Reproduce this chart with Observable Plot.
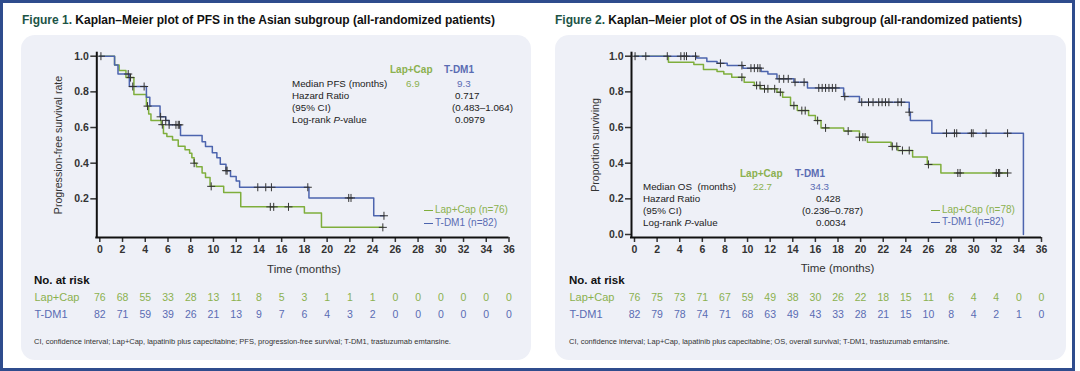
<!DOCTYPE html>
<html><head><meta charset="utf-8">
<script src="https://cdn.jsdelivr.net/npm/d3@7"></script>
<script src="https://cdn.jsdelivr.net/npm/@observablehq/plot@0.6"></script>
<style>
body{margin:0;background:#fff;}
#root{position:relative;width:1080px;height:371px;overflow:hidden;font-family:"Liberation Sans",Arial,sans-serif;color:#222;}
.abs{position:absolute;white-space:pre;}
.frame{position:absolute;left:0;top:0;width:1075px;height:371px;border:3px solid #2f4c8d;box-sizing:border-box;}
.panel{position:absolute;top:35px;height:325px;background:#eef0f7;border-radius:14px;}
.title{font-weight:bold;font-size:12px;color:#111;line-height:14px;}
.title b{color:#1d5446;}
.plotbox{position:absolute;}
</style></head>
<body><div id="root"><div class="frame"></div></div>
<script>
// ---------- shared data ----------
const months = [0,2,4,6,8,10,12,14,16,18,20,22,24,26,28,30,32,34,36];
const arms = ["Lap+Cap","T-DM1"];
const armLineColors = ["#7fae3c","#4c64ae"];
const armTextColors = ["#8bb14f","#5a6cb3"];

// ---------- Figure 1: PFS ----------
const pfsTitleNum = "Figure 1.";
const pfsTitle = " Kaplan\u2013Meier plot of PFS in the Asian subgroup (all-randomized patients)";
const pfsYLabel = "Progression-free survival rate";
const pfsYTicks = [0.2,0.4,0.6,0.8,1.0];
const pfsLapTime = [0,1.3,1.7,2.3,3.0,4.1,4.3,4.5,5.4,5.6,5.9,6.4,6.9,7.5,7.9,8.1,8.3,8.5,9.0,9.3,9.7,10.9,12.4,18.0,19.5,24.9];
const pfsLapSurv = [1,0.95,0.92,0.88,0.785,0.72,0.676,0.64,0.616,0.567,0.55,0.53,0.495,0.475,0.455,0.43,0.40,0.38,0.345,0.32,0.27,0.235,0.155,0.12,0.04,0.04];
const pfsLapCensor = [2.7,4.2,5.5,8.3,9.8,15.0,15.3,16.6,24.9];
const pfsTdmTime = [0,1.3,1.6,2.6,4.1,4.4,5.3,5.8,6.1,7.1,9.0,9.3,9.9,10.3,10.6,11.1,11.5,12.0,12.3,18.4,24.1,25.0];
const pfsTdmSurv = [1,0.95,0.90,0.83,0.77,0.72,0.66,0.64,0.615,0.555,0.52,0.494,0.458,0.43,0.394,0.358,0.325,0.30,0.265,0.205,0.105,0.105];
const pfsTdmCensor = [0.1,2.5,2.9,3.9,5.35,5.8,6.1,6.7,6.9,7.0,11.1,11.2,13.9,14.6,15.1,18.3,21.9,22.1,25.0];
const pfsN = [76,82];
const pfsRiskLap = [76,68,55,33,28,13,11,8,5,3,1,1,1,0,0,0,0,0,0];
const pfsRiskTdm = [82,71,59,39,26,21,13,9,7,6,4,3,2,0,0,0,0,0,0];
const pfsStatLabels = ["Median PFS (months)","Hazard Ratio","(95% CI)","Log-rank P-value"];
const pfsMedians = ["6.9","9.3"];
const pfsStatValues = ["0.717","(0.483\u20131.064)","0.0979"];
const pfsFootnote = "CI, confidence interval; Lap+Cap, lapatinib plus capecitabine; PFS, progression-free survival; T-DM1, trastuzumab emtansine.";

// ---------- Figure 2: OS ----------
const osTitleNum = "Figure 2.";
const osTitle = " Kaplan\u2013Meier plot of OS in the Asian subgroup (all-randomized patients)";
const osYLabel = "Proportion surviving";
const osYTicks = [0,0.2,0.4,0.6,0.8,1.0];
const osLapTime = [0,3.0,5.25,6.1,7.3,7.9,8.6,9.7,10.6,11.15,12.6,13.1,13.8,14.4,15.4,16.0,16.5,18.5,19.9,20.6,22.7,23.3,24.6,25.9,27.1,33.0];
const osLapSurv = [1,0.966,0.953,0.925,0.914,0.90,0.882,0.854,0.836,0.817,0.798,0.77,0.723,0.695,0.667,0.639,0.598,0.58,0.546,0.518,0.494,0.471,0.434,0.393,0.345,0.345];
const osLapCensor = [9.5,10.8,11.1,11.5,11.8,12.4,12.9,14.1,14.8,15.1,16.2,16.9,18.9,19.9,20.2,20.4,22.8,23.2,23.7,24.3,26.0,28.6,28.8,32.0,32.2,32.3,33.0];
const osTdmTime = [0,5.5,6.4,7.3,8.2,9.6,11.2,11.8,12.6,14.1,15.3,18.5,19.9,24.3,24.4,26.3,34.4];
const osTdmSurv = [1,0.99,0.97,0.96,0.948,0.933,0.914,0.90,0.873,0.854,0.822,0.774,0.742,0.686,0.639,0.568,0];
const osTdmCensor = [0.05,1.0,2.9,4.1,4.4,4.6,5.4,7.6,9.5,10.3,10.6,10.9,11.1,12.8,13.2,13.6,14.2,15.0,16.3,16.6,16.9,17.2,17.5,17.8,18.6,20.1,20.7,21.1,21.6,21.9,22.2,22.5,23.3,23.6,24.3,27.6,28.3,28.5,29.8,29.95,31.1,33.0];
const osN = [78,82];
const osRiskLap = [76,75,73,71,67,59,49,38,30,26,22,18,15,11,6,4,4,0,0];
const osRiskTdm = [82,79,78,74,71,68,63,49,43,33,28,21,15,10,8,4,2,1,0];
const osStatLabels = ["Median OS  (months)","Hazard Ratio","(95% CI)","Log-rank P-value"];
const osMedians = ["22.7","34.3"];
const osStatValues = ["0.428","(0.236\u20130.787)","0.0034"];
const osFootnote = "CI, confidence interval; Lap+Cap, lapatinib plus capecitabine; OS, overall survival; T-DM1, trastuzumab emtansine.";

const riskHeader = "No. at risk";
const xLabel = "Time (months)";

// ---------- helpers ----------
const root = document.getElementById("root");
function addDiv(html, css, cls="abs"){
  const d = document.createElement("div");
  d.className = cls; d.innerHTML = html; Object.assign(d.style, css); root.appendChild(d); return d;
}
function stepAt(T,S,t){ let v=S[0]; for(let i=0;i<T.length;i++){ if(T[i]<=t) v=S[i]; } return v; }

function kmPlot(curves, yTicks, x0, x36, left, top){
  const width = 480, height = 240;
  const lines = curves.flatMap((c,k)=>c.T.map((t,i)=>({arm:arms[k], t, s:c.S[i]})));
  const cens = curves.flatMap((c,k)=>c.C.map(t=>({arm:arms[k], t, s:stepAt(c.T,c.S,t)})));
  const p = Plot.plot({
    width, height,
    marginLeft: x0-left, marginRight: width-(x36-left), marginTop: 15.7, marginBottom: 46,
    x:{domain:[0,36]}, y:{domain:[0,1]},
    color:{domain:arms, range:armLineColors},
    style:{fontFamily:"Liberation Sans, Arial, sans-serif", background:"transparent", overflow:"visible"},
    marks:[
      Plot.axisX({ticks:months, tickFormat:d=>d, tickSize:5, tickPadding:3, dy:3, fontSize:10.5, fontWeight:"bold", color:"#333", strokeWidth:1.5, label:null}),
      Plot.axisY({ticks:yTicks, tickFormat:".1f", tickSize:6, tickPadding:2, dx:-3, fontSize:10.5, fontWeight:"bold", color:"#333", strokeWidth:1.5, label:null}),
      Plot.ruleY([0], {dy:3, insetLeft:-4, stroke:"#111", strokeWidth:2}),
      Plot.ruleX([0], {dx:-3, insetTop:-4, insetBottom:-4, stroke:"#111", strokeWidth:2}),
      Plot.line(lines, {x:"t", y:"s", z:"arm", stroke:"arm", curve:"step-after", strokeWidth:1.5}),
      Plot.dot(cens, {x:"t", y:"s", symbol:"plus", r:2.7, stroke:"#333", strokeWidth:1})
    ]
  });
  const box = document.createElement("div"); box.className="plotbox";
  box.style.left = left+"px"; box.style.top = top+"px";
  box.appendChild(p); root.appendChild(box);
}

function riskPlot(riskLap, riskTdm, x0, x36, left, labelX){
  const width = 500, height = 36;
  const rows = [...riskLap.map((n,i)=>({arm:arms[0], m:months[i], n})), ...riskTdm.map((n,i)=>({arm:arms[1], m:months[i], n}))];
  const p = Plot.plot({
    width, height, marginLeft:x0-left, marginRight:width-(x36-left), marginTop:0, marginBottom:0,
    x:{domain:[0,36], axis:null},
    y:{type:"point", domain:arms, range:[11,28], padding:0, axis:null},
    color:{domain:arms, range:armTextColors},
    style:{fontFamily:"Liberation Sans, Arial, sans-serif", background:"transparent", overflow:"visible"},
    marks:[
      Plot.text(rows, {x:"m", y:"arm", text:"n", fill:"arm", fontSize:10.5}),
      Plot.text(arms, {y:d=>d, text:d=>d, fill:d=>d, frameAnchor:"left", textAnchor:"start", dx:labelX-x0, fontSize:11})
    ]
  });
  const box = document.createElement("div"); box.className="plotbox";
  box.style.left = left+"px"; box.style.top = "286px";
  box.appendChild(p); root.appendChild(box);
}

function panel(cfg){
  addDiv("", {left:cfg.boxL+"px", width:(cfg.boxR-cfg.boxL)+"px"}, "panel");
  addDiv(`<b>${cfg.titleNum}</b>${cfg.title}`, {left:cfg.titleX+"px", top:"13px"}, "abs title");
  kmPlot(cfg.curves, cfg.yTicks, cfg.x0, cfg.x36, cfg.plotLeft, 40);
  addDiv(cfg.yLabel, {left:(cfg.yLabX-100)+"px", top:(145-6)+"px", width:"200px", textAlign:"center", fontSize:"10.6px", lineHeight:"12px", color:"#333", transform:"rotate(-90deg)"});
  addDiv(xLabel, {left:((cfg.x0+cfg.x36)/2-60)+"px", top:(cfg.xLabY-7)+"px", width:"120px", textAlign:"center", fontSize:"11.5px", lineHeight:"14px", color:"#333"});
  addDiv(arms[0], {left:cfg.hdrX[0]+"px", top:(cfg.hdrY-6)+"px", fontSize:"10px", fontWeight:"bold", lineHeight:"12px", color:armTextColors[0]});
  addDiv(arms[1], {left:cfg.hdrX[1]+"px", top:(cfg.hdrY-6)+"px", fontSize:"10px", fontWeight:"bold", lineHeight:"12px", color:armTextColors[1]});
  cfg.statLabels.forEach((s,i)=>{
    addDiv(s.replace("P-value","<i>P</i>-value"), {left:cfg.lblX+"px", top:(cfg.rowY[i]-5.5)+"px", fontSize:"9.8px", lineHeight:"11px", color:"#222"});
  });
  addDiv(cfg.medians[0], {left:cfg.medX[0]+"px", top:(cfg.rowY[0]-5.5)+"px", fontSize:"9.8px", lineHeight:"11px", color:armTextColors[0]});
  addDiv(cfg.medians[1], {left:cfg.medX[1]+"px", top:(cfg.rowY[0]-5.5)+"px", fontSize:"9.8px", lineHeight:"11px", color:armTextColors[1]});
  cfg.statValues.forEach((s,i)=>{
    addDiv(s, {left:cfg.valX[i]+"px", top:(cfg.rowY[i+1]-5.5)+"px", fontSize:"9.8px", lineHeight:"11px", color:"#222"});
  });
  [0,1].forEach(k=>{
    const y = cfg.legY[k];
    addDiv("", {left:cfg.legX+"px", top:(y-0.5)+"px", width:"9px", height:"1.3px", background:armLineColors[k]});
    addDiv(`${arms[k]} (n=${cfg.n[k]})`, {left:(cfg.legX+11)+"px", top:(y-6)+"px", fontSize:"10px", lineHeight:"12px", color:armTextColors[k]});
  });
  addDiv(riskHeader, {left:cfg.riskX+"px", top:(280-7)+"px", fontSize:"11.5px", fontWeight:"bold", lineHeight:"14px", color:"#111"});
  riskPlot(cfg.riskLap, cfg.riskTdm, cfg.x0, cfg.x36, cfg.boxL, cfg.riskX);
  addDiv(cfg.footnote, {left:cfg.riskX+"px", top:(341-4.5)+"px", fontSize:"7.5px", lineHeight:"9px", color:"#333"});
}

panel({
  boxL:21, boxR:531, titleX:22, titleNum:pfsTitleNum, title:pfsTitle,
  curves:[{T:pfsLapTime,S:pfsLapSurv,C:pfsLapCensor},{T:pfsTdmTime,S:pfsTdmSurv,C:pfsTdmCensor}],
  yTicks:pfsYTicks, x0:99.3, x36:508.5, plotLeft:40, yLabel:pfsYLabel, yLabX:58, xLabY:269,
  hdrX:[390,444], hdrY:70, lblX:292, rowY:[83,95,107,119], medX:[406,457], valX:[455,452,455],
  statLabels:pfsStatLabels, medians:pfsMedians, statValues:pfsStatValues,
  legX:424, legY:[210,223], n:pfsN, riskX:34, riskLap:pfsRiskLap, riskTdm:pfsRiskTdm, footnote:pfsFootnote
});
panel({
  boxL:555, boxR:1066, titleX:555, titleNum:osTitleNum, title:osTitle,
  curves:[{T:osLapTime,S:osLapSurv,C:osLapCensor},{T:osTdmTime,S:osTdmSurv,C:osTdmCensor}],
  yTicks:osYTicks, x0:634, x36:1041, plotLeft:575, yLabel:osYLabel, yLabX:595, xLabY:268,
  hdrX:[740,795], hdrY:174, lblX:643, rowY:[186,198,210,222], medX:[753,810], valX:[816,802,816],
  statLabels:osStatLabels, medians:osMedians, statValues:osStatValues,
  legX:931, legY:[210,222], n:osN, riskX:569, riskLap:osRiskLap, riskTdm:osRiskTdm, footnote:osFootnote
});
</script>
</body></html>
